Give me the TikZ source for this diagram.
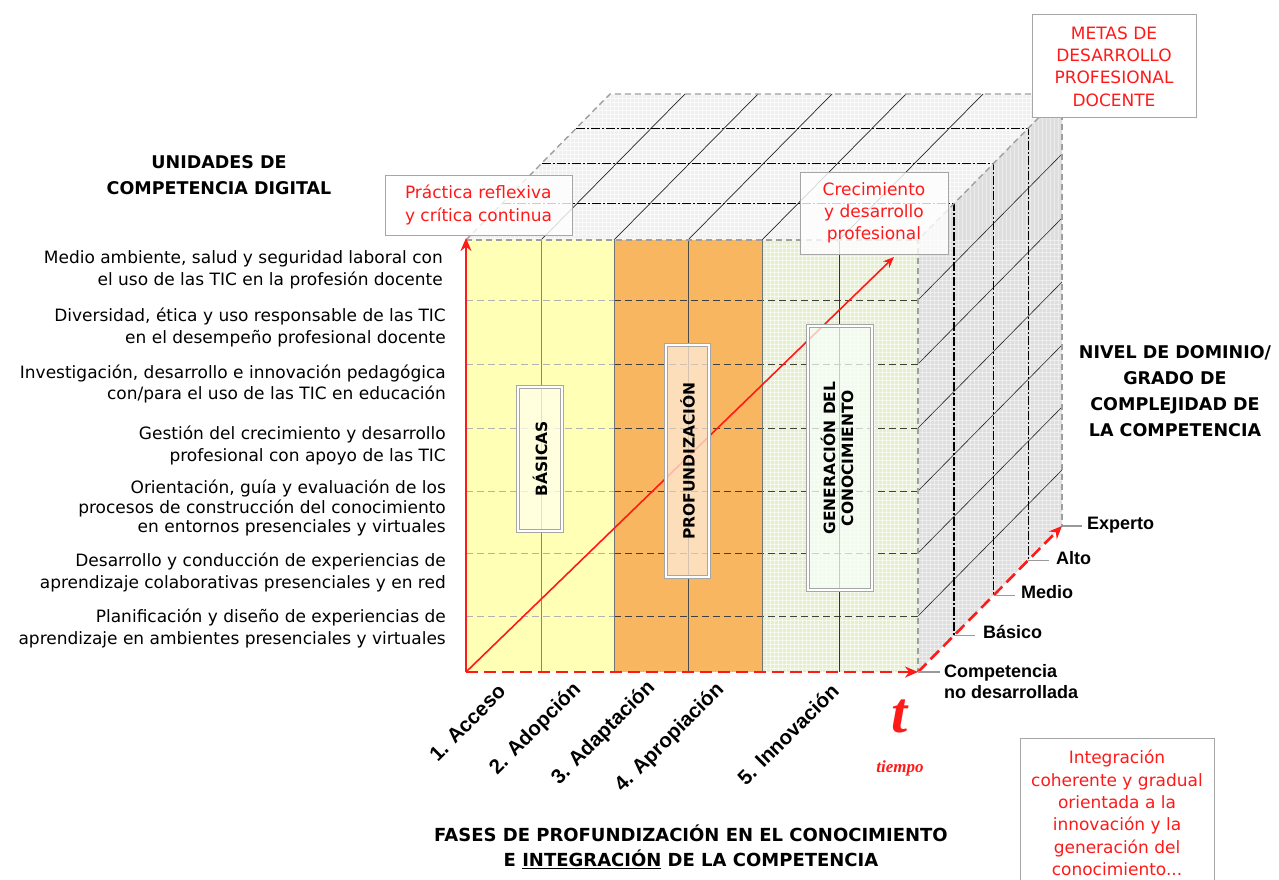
\documentclass[tikz,border=0pt]{standalone}
\usepackage{fontspec}
\setmainfont{DejaVu Sans}
\newfontfamily\arialf{Liberation Sans}
\newfontfamily\timesf{Liberation Serif}
\usetikzlibrary{arrows.meta,calc}
\definecolor{cyellow}{HTML}{FFFFB5}
\definecolor{corange}{HTML}{F8B660}
\definecolor{cgreen}{HTML}{E5EFCB}
\definecolor{ctop}{HTML}{F0F0F0}
\definecolor{cside}{HTML}{DEDEDE}
\definecolor{cred}{HTML}{FF1A1A}
\definecolor{cframe}{HTML}{A6A6A6}
\begin{document}
\begin{tikzpicture}[x=1pt,y=-1pt,
  cubeedge/.style={draw=gray!75, line width=1.4, dash pattern=on 6pt off 4pt},
  slice/.style={draw=black, line width=1.2, dash pattern=on 9pt off 2pt on 2pt off 2pt},
  thinline/.style={draw=black!85, line width=0.7},
  rowdash/.style={line width=1, dash pattern=on 7pt off 4pt},
  collinefront/.style={draw=black!55, line width=0.8},
  texture/.style={draw=white, line width=0.35, opacity=0.45},
  redbox/.style={draw=cframe, line width=1, fill=white, text=cred, align=center, inner sep=0pt,
    font=\fontsize{17}{22.3}\selectfont},
  phasebox/.style={draw=cframe, line width=1.2, double=white, double distance=1.4pt, inner sep=0pt,
    fill opacity=0.75, text opacity=1, draw opacity=1,
    font=\bfseries\fontsize{15.5}{20}\selectfont, align=center},
  unitlbl/.style={anchor=east, align=right, inner sep=0pt, font=\fontsize{17}{21.5}\selectfont},
  titlelbl/.style={align=center, inner sep=0pt, font=\bfseries\fontsize{17.5}{26}\selectfont},
  lvl/.style={anchor=west, inner sep=0pt, align=left, font=\arialf\bfseries\fontsize{18}{21}\selectfont},
  phaselbl/.style={rotate=45, anchor=east, inner sep=0pt, font=\arialf\bfseries\fontsize{20.5}{22}\selectfont},
  tickl/.style={draw=gray!80, line width=1.2},
  redarrow/.style={draw=cred, line width=2.6, -{Stealth[length=13pt,width=11pt]}},
  reddash/.style={draw=cred, line width=2.6, dash pattern=on 12pt off 6pt, -{Stealth[length=13pt,width=11pt]}}
]
\useasboundingbox (0,0) rectangle (1279,880);
\fill[white] (0,0) rectangle (1279,880);

% cube corners
\coordinate (FLB) at (466,672);
\coordinate (FLT) at (466,240);
\coordinate (FRT) at (918,240);
\coordinate (FRB) at (918,672);
\coordinate (BLT) at (610,94);
\coordinate (BRT) at (1062,94);
\coordinate (BRB) at (1062,526);
\coordinate (DiagEnd) at (894,257);

% faces
\fill[ctop] (FLT) -- (FRT) -- (BRT) -- (BLT) -- cycle;
\begin{scope}
  \clip (FLT) -- (FRT) -- (BRT) -- (BLT) -- cycle;
  \foreach \k in {0,4,...,148} { \draw[texture, opacity=0.6] (460,{94+\k}) -- ++(610,0); }
  \foreach \k in {0,4,...,600} { \draw[texture, opacity=0.6] ({466+\k},90) -- ++(0,152); }
\end{scope}
\fill[cside] (FRT) -- (BRT) -- (BRB) -- (FRB) -- cycle;
\begin{scope}
  \clip (FRT) -- (BRT) -- (BRB) -- (FRB) -- cycle;
  \foreach \k in {0,4,...,432} { \draw[texture] (918,{240+\k}) -- ++(144,0); }
  \foreach \k in {0,4,...,144} { \draw[texture] ({918+\k},90) -- ++(0,590); }
\end{scope}

% top face depth lines
\foreach \x in {541,614,688,762,839} {
  \draw[thinline] (\x,240) -- ++(144,-146);
}
% right face depth lines
\foreach \y in {300,364,428,491,553,616} {
  \draw[thinline, line width=0.6] (918,\y) -- ++(144,-146);
}
% slices
\foreach \f in {0.25,0.525,0.765} {
  \draw[slice] ($(FLT)+\f*(144,-146)$) -- ($(FRT)+\f*(144,-146)$) -- ($(FRB)+\f*(144,-146)$);
}
% cube edges
\draw[cubeedge] (FLT) -- (BLT) -- (BRT) -- (FRT);
\draw[cubeedge] (BRT) -- (BRB);

% front face
\fill[cyellow] (466,240) rectangle (614,672);
\fill[corange] (614,240) rectangle (762,672);
\fill[cgreen] (762,240) rectangle (918,672);
\begin{scope}
  \clip (762,240) rectangle (918,672);
  \foreach \k in {0,4,...,432} { \draw[texture, opacity=0.6] (762,{240+\k}) -- ++(156,0); }
  \foreach \k in {0,4,...,156} { \draw[texture, opacity=0.6] ({762+\k},240) -- ++(0,432); }
\end{scope}
\foreach \y in {300,364,428,491,553,616} {
  \draw[rowdash, draw=gray!60] (466,\y) -- (614,\y);
  \draw[rowdash, draw=black!75] (614,\y) -- (918,\y);
}
\draw[collinefront, draw=olive!45!gray] (541,240) -- (541,672);
\draw[collinefront] (614,240) -- (614,672);
\draw[collinefront, draw=black!70] (688,240) -- (688,672);
\draw[collinefront] (762,240) -- (762,672);
\draw[collinefront, draw=black!80] (839,240) -- (839,672);
\draw[cubeedge] (FLT) -- (FRT) -- (FRB);

% diagonal growth arrow (under the phase boxes)
\draw[draw=cred, line width=1.6, -{Stealth[length=11pt,width=9pt]}] (FLB) -- (DiagEnd);

% phase boxes
\node[phasebox, fill=yellow!8, minimum width=44, minimum height=144] (basicas) at (540,459)
  {\rotatebox{90}{BÁSICAS}};
\node[phasebox, fill=orange!15, minimum width=43, minimum height=232] (profund) at (687.5,461)
  {\rotatebox{90}{PROFUNDIZACIÓN}};
\node[phasebox, fill=green!3, minimum width=64, minimum height=264] (generac) at (840,458)
  {\rotatebox{90}{\begin{tabular}{@{}c@{}}GENERACIÓN DEL\\[-2pt]CONOCIMIENTO\end{tabular}}};

% red axis arrows
\draw[redarrow] (FLB) -- ($(FLT)+(0,-2)$);
\draw[reddash] (FLB) -- (FRB);
\draw[reddash] (FRB) -- (BRB);

% level ticks and labels
\draw[tickl] (FRB) -- ++(22,0);
\draw[tickl] ($(FRB)+0.25*(144,-146)$) -- ++(21,0);
\draw[tickl] ($(FRB)+0.525*(144,-146)$) -- ++(21,0);
\draw[tickl] ($(FRB)+0.765*(144,-146)$) -- ++(21,0);
\draw[tickl] (BRB) -- ++(20,0);
\node[lvl] (experto) at (1087,525) {Experto};
\node[lvl] (alto) at (1056,558) {Alto};
\node[lvl] (medio) at (1021,592) {Medio};
\node[lvl] (basico) at (983,632) {Básico};
\node[lvl] (nodes) at (944,682) {Competencia\\no desarrollada};

% phase labels
\node[phaselbl] (p1) at (502,688) {1. Acceso};
\node[phaselbl] (p2) at (578,687) {2. Adopción};
\node[phaselbl] (p3) at (652,685) {3. Adaptación};
\node[phaselbl] (p4) at (721,687) {4. Apropiación};
\node[phaselbl] (p5) at (835,687) {5. Innovación};

\node[text=cred, inner sep=0pt, font=\timesf\bfseries\itshape\fontsize{58}{58}\selectfont] (tlbl) at (900,716) {t};
\node[text=cred, inner sep=0pt, font=\timesf\bfseries\itshape\fontsize{17}{20}\selectfont] (tiempo) at (900,768) {tiempo};

% unit labels
\node[unitlbl] (u1) at (443,270) {Medio ambiente, salud y seguridad laboral con\\el uso de las TIC en la profesión docente};
\node[unitlbl] (u2) at (446,327.5) {Diversidad, ética y uso responsable de las TIC\\en el desempeño profesional docente};
\node[unitlbl] (u3) at (446,384) {Investigación, desarrollo e innovación pedagógica\\con/para el uso de las TIC en educación};
\node[unitlbl] (u4) at (446,445.5) {Gestión del crecimiento y desarrollo\\profesional con apoyo de las TIC};
\node[unitlbl, font=\fontsize{17}{19.5}\selectfont] (u5) at (446,508) {Orientación, guía y evaluación de los\\procesos de construcción del conocimiento\\en entornos presenciales y virtuales};
\node[unitlbl] (u6) at (446,572.5) {Desarrollo y conducción de experiencias de\\aprendizaje colaborativas presenciales y en red};
\node[unitlbl] (u7) at (446,628.5) {Planificación y diseño de experiencias de\\aprendizaje en ambientes presenciales y virtuales};

% titles
\node[titlelbl] (tunits) at (219,175) {UNIDADES DE\\COMPETENCIA DIGITAL};
\node[titlelbl] (tnivel) at (1175,391) {NIVEL DE DOMINIO/\\GRADO DE\\COMPLEJIDAD DE\\LA COMPETENCIA};
\node[titlelbl, font=\bfseries\fontsize{18}{25}\selectfont] (tfases) at (691,847) {FASES DE PROFUNDIZACIÓN EN EL CONOCIMIENTO\\E \underline{INTEGRACIÓN} DE LA COMPETENCIA};

% red annotation boxes
\node[redbox, minimum width=164, minimum height=103] (metas) at (1114,66.5) {METAS DE\\DESARROLLO\\PROFESIONAL\\DOCENTE};
\node[redbox, align=left, fill opacity=0.8, text opacity=1, minimum width=187, minimum height=60] (practica) at (478.5,205) {Práctica reflexiva\\y crítica continua};
\node[redbox, fill opacity=0.8, text opacity=1, minimum width=148, minimum height=82] (crec) at (874,213) {Crecimiento\\y desarrollo\\profesional};
\node[redbox, minimum width=194, minimum height=150] (integ) at (1117,813) {Integración\\coherente y gradual\\orientada a la\\innovación y la\\generación del\\conocimiento...};
\end{tikzpicture}
\end{document}
